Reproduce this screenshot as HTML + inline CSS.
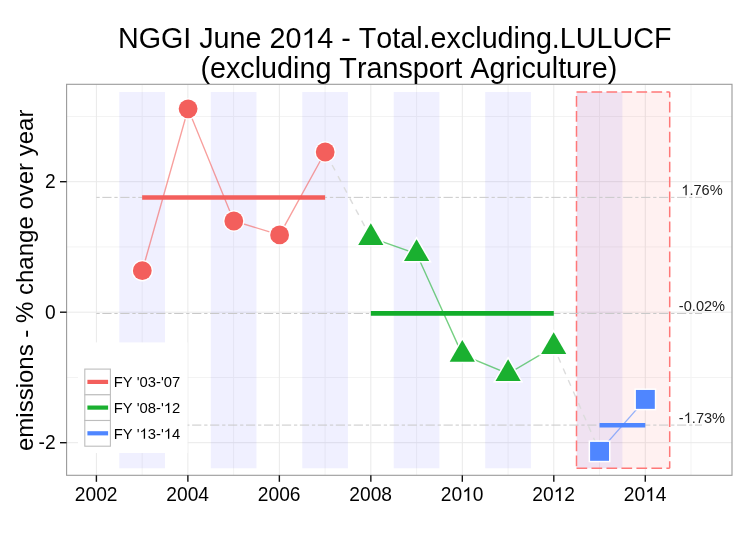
<!DOCTYPE html>
<html><head><meta charset="utf-8"><style>
html,body{margin:0;padding:0;background:#fff;}
svg{display:block;will-change:transform;font-family:"Liberation Sans",sans-serif;font-kerning:none;font-feature-settings:"kern" 0;}
</style></head><body>
<svg width="754" height="539" viewBox="0 0 754 539">
<defs><path id="one" d="M763 0H583V1098Q518 1038 412 979Q306 920 222 890V1057Q373 1125 486 1221Q599 1318 646 1409H763Z"/></defs>
<rect x="0" y="0" width="754" height="539" fill="#fff"/>
<rect x="66.6" y="84.3" width="665.4" height="391.0" fill="#fff"/>
<line x1="142.14" y1="84.3" x2="142.14" y2="475.3" stroke="#f3f3f3" stroke-width="1"/>
<line x1="233.62" y1="84.3" x2="233.62" y2="475.3" stroke="#f3f3f3" stroke-width="1"/>
<line x1="325.10" y1="84.3" x2="325.10" y2="475.3" stroke="#f3f3f3" stroke-width="1"/>
<line x1="416.58" y1="84.3" x2="416.58" y2="475.3" stroke="#f3f3f3" stroke-width="1"/>
<line x1="508.06" y1="84.3" x2="508.06" y2="475.3" stroke="#f3f3f3" stroke-width="1"/>
<line x1="599.54" y1="84.3" x2="599.54" y2="475.3" stroke="#f3f3f3" stroke-width="1"/>
<line x1="691.02" y1="84.3" x2="691.02" y2="475.3" stroke="#f3f3f3" stroke-width="1"/>
<line x1="66.6" y1="377.45" x2="732.0" y2="377.45" stroke="#f3f3f3" stroke-width="1"/>
<line x1="66.6" y1="246.95" x2="732.0" y2="246.95" stroke="#f3f3f3" stroke-width="1"/>
<line x1="66.6" y1="116.45" x2="732.0" y2="116.45" stroke="#f3f3f3" stroke-width="1"/>
<line x1="96.40" y1="84.3" x2="96.40" y2="475.3" stroke="#e9e9e9" stroke-width="1"/>
<line x1="187.88" y1="84.3" x2="187.88" y2="475.3" stroke="#e9e9e9" stroke-width="1"/>
<line x1="279.36" y1="84.3" x2="279.36" y2="475.3" stroke="#e9e9e9" stroke-width="1"/>
<line x1="370.84" y1="84.3" x2="370.84" y2="475.3" stroke="#e9e9e9" stroke-width="1"/>
<line x1="462.32" y1="84.3" x2="462.32" y2="475.3" stroke="#e9e9e9" stroke-width="1"/>
<line x1="553.80" y1="84.3" x2="553.80" y2="475.3" stroke="#e9e9e9" stroke-width="1"/>
<line x1="645.28" y1="84.3" x2="645.28" y2="475.3" stroke="#e9e9e9" stroke-width="1"/>
<line x1="66.6" y1="442.70" x2="732.0" y2="442.70" stroke="#e9e9e9" stroke-width="1"/>
<line x1="66.6" y1="312.20" x2="732.0" y2="312.20" stroke="#e9e9e9" stroke-width="1"/>
<line x1="66.6" y1="181.70" x2="732.0" y2="181.70" stroke="#e9e9e9" stroke-width="1"/>
<rect x="119.27" y="91.95" width="45.74" height="376.35" fill="#0000ff" fill-opacity="0.06"/>
<rect x="210.75" y="91.95" width="45.74" height="376.35" fill="#0000ff" fill-opacity="0.06"/>
<rect x="302.23" y="91.95" width="45.74" height="376.35" fill="#0000ff" fill-opacity="0.06"/>
<rect x="393.71" y="91.95" width="45.74" height="376.35" fill="#0000ff" fill-opacity="0.06"/>
<rect x="485.19" y="91.95" width="45.74" height="376.35" fill="#0000ff" fill-opacity="0.06"/>
<rect x="576.67" y="91.95" width="45.74" height="376.35" fill="#0000ff" fill-opacity="0.06"/>
<rect x="576.5" y="91.95" width="93.20" height="376.35" fill="#ff0000" fill-opacity="0.055"/>
<line x1="576.5" y1="91.95" x2="669.7" y2="91.95" stroke="#ff7878" stroke-width="1.5" stroke-dasharray="10.7 4.28"/>
<line x1="669.7" y1="91.95" x2="669.7" y2="468.3" stroke="#ff7878" stroke-width="1.5" stroke-dasharray="10.7 4.28" stroke-dashoffset="5.2"/>
<line x1="576.5" y1="468.3" x2="669.7" y2="468.3" stroke="#ff7878" stroke-width="1.5" stroke-dasharray="10.7 4.28"/>
<line x1="576.5" y1="91.95" x2="576.5" y2="468.3" stroke="#ff7878" stroke-width="1.5" stroke-dasharray="10.7 4.28" stroke-dashoffset="10.88"/>
<line x1="96.40" y1="197.36" x2="702" y2="197.36" stroke="#c9c9c9" stroke-width="1" stroke-dasharray="3.31 2.61 9.23 2.81"/>
<line x1="96.40" y1="313.50" x2="702" y2="313.50" stroke="#c9c9c9" stroke-width="1" stroke-dasharray="3.31 2.61 9.23 2.81"/>
<line x1="96.40" y1="425.08" x2="702" y2="425.08" stroke="#c9c9c9" stroke-width="1" stroke-dasharray="3.31 2.61 9.23 2.81"/>
<line x1="142.14" y1="197.45" x2="325.10" y2="197.45" stroke="#F35F5C" stroke-width="4.6"/>
<line x1="370.84" y1="313.4" x2="553.80" y2="313.4" stroke="#12AD2A" stroke-width="4.6"/>
<line x1="599.54" y1="425.3" x2="645.28" y2="425.3" stroke="#4F86FF" stroke-width="4.6"/>
<polyline points="142.3,270.7 188.1,108.85 233.8,221.0 279.6,234.9 325.2,152.0" fill="none" stroke="#F35F5C" stroke-opacity="0.6" stroke-width="1.4"/>
<polyline points="370.8,237.7 416.6,253.8 462.3,354.6 508.1,373.7 553.7,346.8" fill="none" stroke="#1AB030" stroke-opacity="0.6" stroke-width="1.4"/>
<polyline points="599.55,451.35 645.35,399.4" fill="none" stroke="#4F86FF" stroke-opacity="0.6" stroke-width="1.4"/>
<line x1="325.2" y1="152.0" x2="370.8" y2="237.7" stroke="#dcdcdc" stroke-width="1.4" stroke-dasharray="6.2 6.4" stroke-dashoffset="10.5"/>
<line x1="553.7" y1="346.8" x2="599.55" y2="451.35" stroke="#dcdcdc" stroke-width="1.4" stroke-dasharray="6.2 6.4" stroke-dashoffset="1.5"/>
<circle cx="142.3" cy="270.7" r="9.4" fill="#F35F5C" stroke="#fff" stroke-width="2.6" paint-order="stroke"/>
<circle cx="188.1" cy="108.85" r="9.4" fill="#F35F5C" stroke="#fff" stroke-width="2.6" paint-order="stroke"/>
<circle cx="233.8" cy="221.0" r="9.4" fill="#F35F5C" stroke="#fff" stroke-width="2.6" paint-order="stroke"/>
<circle cx="279.6" cy="234.9" r="9.4" fill="#F35F5C" stroke="#fff" stroke-width="2.6" paint-order="stroke"/>
<circle cx="325.2" cy="152.0" r="9.4" fill="#F35F5C" stroke="#fff" stroke-width="2.6" paint-order="stroke"/>
<polygon points="370.80,223.17 383.39,244.97 358.21,244.97" fill="#1AB030" stroke="#fff" stroke-width="3" stroke-linejoin="miter" paint-order="stroke"/>
<polygon points="416.60,239.27 429.19,261.07 404.01,261.07" fill="#1AB030" stroke="#fff" stroke-width="3" stroke-linejoin="miter" paint-order="stroke"/>
<polygon points="462.30,340.07 474.89,361.87 449.71,361.87" fill="#1AB030" stroke="#fff" stroke-width="3" stroke-linejoin="miter" paint-order="stroke"/>
<polygon points="508.10,359.17 520.69,380.97 495.51,380.97" fill="#1AB030" stroke="#fff" stroke-width="3" stroke-linejoin="miter" paint-order="stroke"/>
<polygon points="553.70,332.27 566.29,354.07 541.11,354.07" fill="#1AB030" stroke="#fff" stroke-width="3" stroke-linejoin="miter" paint-order="stroke"/>
<rect x="590.10" y="441.90" width="18.9" height="18.9" fill="#4F86FF" stroke="#fff" stroke-width="3" paint-order="stroke"/>
<rect x="635.90" y="389.95" width="18.9" height="18.9" fill="#4F86FF" stroke="#fff" stroke-width="3" paint-order="stroke"/>
<g transform="translate(681.30 195.20) scale(1 1.04)"><text x="0" y="0" font-size="14.6" fill="#222"> .76%</text><use href="#one" fill="#222" transform="translate(0.00 0) scale(0.007129 -0.007129)"/></g>
<g transform="translate(678.87 310.90) scale(1 1.04)"><text x="0" y="0" font-size="14.6" fill="#222">-0.02%</text></g>
<g transform="translate(678.87 423.00) scale(1 1.04)"><text x="0" y="0" font-size="14.6" fill="#222">- .73%</text><use href="#one" fill="#222" transform="translate(4.86 0) scale(0.007129 -0.007129)"/></g>
<rect x="78" y="342.4" width="109.5" height="110.6" fill="#fff"/>
<rect x="84.8" y="369.10" width="25.6" height="25.7" fill="#fff" stroke="#bdbdbd" stroke-width="1.1"/>
<line x1="87.4" y1="381.90" x2="108.1" y2="381.90" stroke="#F35F5C" stroke-width="4.2"/>
<g transform="translate(113.70 387.10) scale(1 1.0)"><text x="0" y="0" font-size="14.8" fill="#000">FY &#39;03-&#39;07</text></g>
<rect x="84.8" y="394.80" width="25.6" height="25.7" fill="#fff" stroke="#bdbdbd" stroke-width="1.1"/>
<line x1="87.4" y1="407.60" x2="108.1" y2="407.60" stroke="#1AB030" stroke-width="4.2"/>
<g transform="translate(113.70 412.90) scale(1 1.0)"><text x="0" y="0" font-size="14.8" fill="#000">FY &#39;08-&#39; 2</text><use href="#one" fill="#000" transform="translate(50.07 0) scale(0.007227 -0.007227)"/></g>
<rect x="84.8" y="420.50" width="25.6" height="25.7" fill="#fff" stroke="#bdbdbd" stroke-width="1.1"/>
<line x1="87.4" y1="433.30" x2="108.1" y2="433.30" stroke="#4F86FF" stroke-width="4.2"/>
<g transform="translate(113.70 438.70) scale(1 1.0)"><text x="0" y="0" font-size="14.8" fill="#000">FY &#39; 3-&#39; 4</text><use href="#one" fill="#000" transform="translate(25.85 0) scale(0.007227 -0.007227)"/><use href="#one" fill="#000" transform="translate(50.07 0) scale(0.007227 -0.007227)"/></g>
<rect x="66.6" y="84.3" width="665.40" height="391.00" fill="none" stroke="#9a9a9a" stroke-width="1.1"/>
<line x1="96.40" y1="475.3" x2="96.40" y2="481.8" stroke="#111" stroke-width="1.4"/>
<g transform="translate(74.84 501.00) scale(1 1.04)"><text x="0" y="0" font-size="19.2" fill="#000">2002</text></g>
<line x1="187.88" y1="475.3" x2="187.88" y2="481.8" stroke="#111" stroke-width="1.4"/>
<g transform="translate(166.32 501.00) scale(1 1.04)"><text x="0" y="0" font-size="19.2" fill="#000">2004</text></g>
<line x1="279.36" y1="475.3" x2="279.36" y2="481.8" stroke="#111" stroke-width="1.4"/>
<g transform="translate(257.80 501.00) scale(1 1.04)"><text x="0" y="0" font-size="19.2" fill="#000">2006</text></g>
<line x1="370.84" y1="475.3" x2="370.84" y2="481.8" stroke="#111" stroke-width="1.4"/>
<g transform="translate(349.28 501.00) scale(1 1.04)"><text x="0" y="0" font-size="19.2" fill="#000">2008</text></g>
<line x1="462.32" y1="475.3" x2="462.32" y2="481.8" stroke="#111" stroke-width="1.4"/>
<g transform="translate(440.76 501.00) scale(1 1.04)"><text x="0" y="0" font-size="19.2" fill="#000">20 0</text><use href="#one" fill="#000" transform="translate(21.36 0) scale(0.009375 -0.009375)"/></g>
<line x1="553.80" y1="475.3" x2="553.80" y2="481.8" stroke="#111" stroke-width="1.4"/>
<g transform="translate(532.24 501.00) scale(1 1.04)"><text x="0" y="0" font-size="19.2" fill="#000">20 2</text><use href="#one" fill="#000" transform="translate(21.36 0) scale(0.009375 -0.009375)"/></g>
<line x1="645.28" y1="475.3" x2="645.28" y2="481.8" stroke="#111" stroke-width="1.4"/>
<g transform="translate(623.72 501.00) scale(1 1.04)"><text x="0" y="0" font-size="19.2" fill="#000">20 4</text><use href="#one" fill="#000" transform="translate(21.36 0) scale(0.009375 -0.009375)"/></g>
<line x1="60" y1="442.70" x2="66.6" y2="442.70" stroke="#111" stroke-width="1.4"/>
<g transform="translate(38.53 449.35) scale(1 1.04)"><text x="0" y="0" font-size="19.2" fill="#000">-2</text></g>
<line x1="60" y1="312.20" x2="66.6" y2="312.20" stroke="#111" stroke-width="1.4"/>
<g transform="translate(44.92 318.85) scale(1 1.04)"><text x="0" y="0" font-size="19.2" fill="#000">0</text></g>
<line x1="60" y1="181.70" x2="66.6" y2="181.70" stroke="#111" stroke-width="1.4"/>
<g transform="translate(44.92 188.35) scale(1 1.04)"><text x="0" y="0" font-size="19.2" fill="#000">2</text></g>
<g transform="translate(117.90 48.00) scale(1 1.0)"><text x="0" y="0" font-size="28.71" fill="#000">NGGI June 20 4 - Total.excluding.LULUCF</text><use href="#one" fill="#000" transform="translate(183.52 0) scale(0.014019 -0.014019)"/></g>
<text x="200.4" y="78.4" font-size="28.74" fill="#000">(excluding Transport Agriculture)</text>
<text x="0" y="0" transform="translate(32.7 280.3) rotate(-90)" text-anchor="middle" font-size="24" fill="#000">emissions - % change over year</text>
</svg>
</body></html>
